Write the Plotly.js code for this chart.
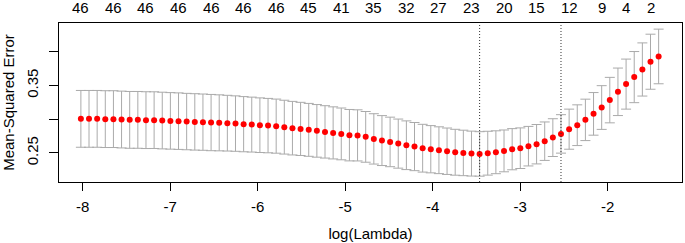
<!DOCTYPE html>
<html>
<head>
<meta charset="utf-8">
<script src="https://cdn.plot.ly/plotly-3.0.1.min.js"></script>
<style>html,body{margin:0;padding:0;background:#fff;}#chart{width:685px;height:243px;}</style>
</head>
<body>
<div id="chart"></div>
<script>
// log(Lambda) for each fitted lambda
const logLambda = [-8.020,-7.927,-7.834,-7.741,-7.648,-7.555,-7.462,-7.369,-7.276,-7.183,
  -7.090,-6.997,-6.904,-6.811,-6.718,-6.625,-6.532,-6.439,-6.346,-6.253,
  -6.160,-6.067,-5.974,-5.881,-5.788,-5.695,-5.602,-5.509,-5.416,-5.323,
  -5.230,-5.137,-5.044,-4.951,-4.858,-4.765,-4.672,-4.579,-4.486,-4.393,
  -4.300,-4.207,-4.114,-4.021,-3.928,-3.835,-3.742,-3.649,-3.556,-3.463,
  -3.370,-3.277,-3.184,-3.091,-2.998,-2.905,-2.812,-2.719,-2.626,-2.533,
  -2.440,-2.347,-2.254,-2.161,-2.068,-1.975,-1.882,-1.789,-1.696,-1.603,
  -1.510,-1.417];
// mean cross-validated MSE
const cvMean = [0.3005,0.3005,0.3005,0.3001,0.3001,0.2995,0.2990,0.2990,0.2986,0.2986,
  0.2980,0.2975,0.2971,0.2965,0.2960,0.2956,0.2950,0.2946,0.2941,0.2935,
  0.2926,0.2920,0.2911,0.2905,0.2897,0.2882,0.2867,0.2856,0.2842,0.2827,
  0.2812,0.2797,0.2782,0.2763,0.2760,0.2738,0.2708,0.2683,0.2663,0.2638,
  0.2614,0.2594,0.2570,0.2555,0.2540,0.2525,0.2510,0.2500,0.2490,0.2485,
  0.2496,0.2510,0.2530,0.2555,0.2570,0.2600,0.2629,0.2674,0.2727,0.2782,
  0.2852,0.2911,0.2990,0.3079,0.3173,0.3283,0.3406,0.3520,0.3624,0.3737,
  0.3852,0.3930];
// standard error of the CV MSE (half height of each error bar)
const cvSd = [0.0421,0.0421,0.0421,0.0421,0.0421,0.0421,0.0421,0.0421,0.0421,0.0420,
  0.0420,0.0419,0.0419,0.0418,0.0418,0.0417,0.0417,0.0415,0.0413,0.0411,
  0.0409,0.0407,0.0405,0.0403,0.0401,0.0399,0.0397,0.0394,0.0392,0.0390,
  0.0388,0.0386,0.0384,0.0381,0.0379,0.0376,0.0373,0.0370,0.0367,0.0364,
  0.0361,0.0357,0.0354,0.0350,0.0347,0.0344,0.0340,0.0337,0.0333,0.0330,
  0.0325,0.0318,0.0310,0.0305,0.0301,0.0293,0.0292,0.0285,0.0280,0.0285,
  0.0297,0.0302,0.0307,0.0316,0.0324,0.0337,0.0352,0.0371,0.0379,0.0394,
  0.0408,0.0405];
// number of nonzero coefficients shown on the top axis
const topTickLogLambda = [-8.020,-7.648,-7.276,-6.904,-6.532,-6.160,-5.788,-5.416,-5.044,-4.672,
  -4.300,-3.928,-3.556,-3.184,-2.812,-2.440,-2.068,-1.789,-1.510];
const topTickLabels = ['46','46','46','46','46','46','46','45','41','35','32','27','23','20','15','12','9','4','2'];
const logLambdaMin = -3.463;
const logLambda1se = -2.533;
const yTickVals = [0.25, 0.30, 0.35, 0.40];
const yTickText = ['0.25', '', '0.35', ''];
const xTickVals = [-8, -7, -6, -5, -4, -3, -2];

const xRange = [-8.27, -1.15];
const yRange = [0.2069, 0.4426];
const font = {family: 'Liberation Sans, Arial, sans-serif', size: 15, color: '#000'};

const traces = [
  {
    x: logLambda, y: cvMean, type: 'scatter', mode: 'markers',
    marker: {color: '#ff0000', size: 6},
    error_y: {type: 'data', array: cvSd, visible: true, color: '#aaaaaa', thickness: 1, width: 5},
    hoverinfo: 'x+y', showlegend: false
  }
];

const annotations = topTickLogLambda.map((v, i) => ({
  x: v, xref: 'x', y: 1, yref: 'paper', text: topTickLabels[i],
  showarrow: false, xanchor: 'center', yanchor: 'middle', yshift: 15.5, font: font
}));

const layout = {
  width: 685, height: 243,
  margin: {l: 59, r: 3, t: 23, b: 61},
  paper_bgcolor: '#fff', plot_bgcolor: '#fff',
  font: font,
  showlegend: false,
  xaxis: {
    range: xRange, tickvals: xTickVals, ticktext: xTickVals.map(String),
    ticks: 'outside', ticklen: 8, tickcolor: '#000', tickwidth: 1,
    ticklabelstandoff: 3,
    showgrid: false, zeroline: false,
    showline: true, mirror: true, linecolor: '#000', linewidth: 1,
    title: {text: 'log(Lambda)', font: font, standoff: 14},
    tickfont: font
  },
  yaxis: {
    range: yRange, tickvals: yTickVals, ticktext: yTickText,
    ticks: 'outside', ticklen: 9, tickcolor: '#000', tickwidth: 1,
    tickangle: -90, ticklabelstandoff: 5,
    showgrid: false, zeroline: false,
    showline: true, mirror: true, linecolor: '#000', linewidth: 1,
    title: {text: 'Mean-Squared Error', font: font, standoff: 9},
    tickfont: font
  },
  annotations: annotations,
  shapes: [logLambdaMin, logLambda1se].map(v => ({
    type: 'line', xref: 'x', yref: 'paper', x0: v, x1: v, y0: 0, y1: 1,
    line: {color: '#333', width: 1, dash: '1px,2px'}
  }))
};

Plotly.newPlot('chart', traces, layout, {staticPlot: true, displayModeBar: false});
</script>
</body>
</html>
